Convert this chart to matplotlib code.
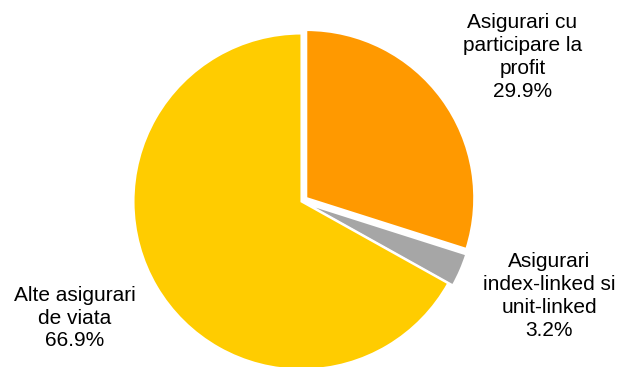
import matplotlib
matplotlib.use("Agg")
import matplotlib.pyplot as plt

categories = ["Asigurari cu\nparticipare la\nprofit",
              "Asigurari\nindex-linked si\nunit-linked",
              "Alte asigurari\nde viata"]
values = [29.9, 3.2, 66.9]
colors = ["#FF9900", "#A6A6A6", "#FFCC00"]
explode = [0.035, 0.03, 0.0]

W, H = 619, 367
cx, cy, R = 301.5, 201.5, 168.0  # pixel centre and radius

fig = plt.figure(figsize=(W / 100, H / 100), dpi=100)
ax = fig.add_axes([0, 0, 1, 1])
ax.pie(values, colors=colors, explode=explode, startangle=90, counterclock=False,
       radius=1.0, center=(0, 0),
       wedgeprops=dict(edgecolor="white", linewidth=1.5))
ax.set_xlim(-cx / R, (W - cx) / R)
ax.set_ylim(-(H - cy) / R, cy / R)
ax.set_aspect("equal")
ax.axis("off")

label_pos = [(522.5, 57), (549.5, 296), (75, 318)]
for name, v, (px, py) in zip(categories, values, label_pos):
    ax.text((px - cx) / R, (cy - py) / R, f"{name}\n{v:.1f}%",
            ha="center", va="center", fontsize=15, family="Liberation Sans",
            linespacing=1.26, color="black")

fig.savefig("out.png", dpi=100)
